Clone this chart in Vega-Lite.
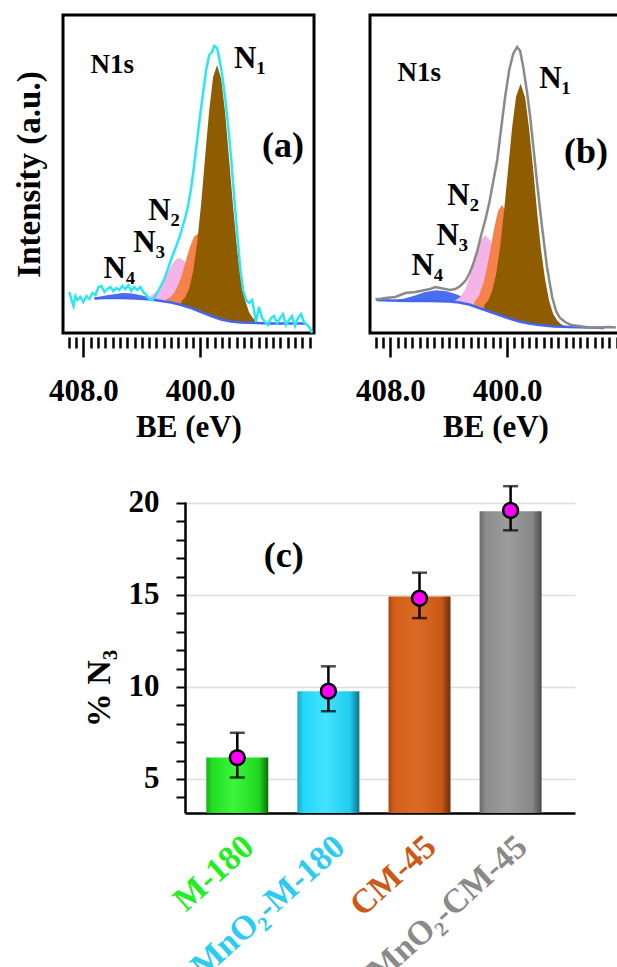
{
  "$schema": "https://vega.github.io/schema/vega-lite/v6.json",
  "background": "white",
  "padding": {"left": 11, "top": 13, "right": 0, "bottom": 0},
  "spacing": 40,
  "config": {
    "font": "Liberation Serif",
    "view": {"stroke": null},
    "axis": {"labelFont": "Liberation Serif", "titleFont": "Liberation Serif", "labelColor": "black", "titleColor": "black", "labelFontWeight": "bold", "titleFontWeight": "bold"},
    "text": {"font": "Liberation Serif", "fontWeight": "bold", "color": "black"}
  },
  "datasets": {
    "a_env": [
      {"be":408.96,"i":41},{"be":408.82,"i":33},{"be":408.68,"i":27},{"be":408.55,"i":37},{"be":408.41,"i":33},{"be":408.21,"i":36},{"be":408.00,"i":31},{"be":407.79,"i":37},{"be":407.59,"i":34},{"be":407.38,"i":40},{"be":407.18,"i":38},{"be":406.97,"i":46},{"be":406.77,"i":47},{"be":406.56,"i":41},{"be":406.36,"i":44},{"be":406.15,"i":46},{"be":405.95,"i":42},{"be":405.74,"i":45},{"be":405.54,"i":43},{"be":405.33,"i":47},{"be":405.13,"i":44},{"be":404.92,"i":48},{"be":404.72,"i":42},{"be":404.51,"i":46},{"be":404.31,"i":43},{"be":404.10,"i":46},{"be":403.90,"i":41},{"be":403.69,"i":38},{"be":403.49,"i":34},{"be":403.28,"i":33},{"be":403.08,"i":37},{"be":402.87,"i":42},{"be":402.67,"i":48},{"be":402.46,"i":54},{"be":402.26,"i":62},{"be":402.05,"i":71},{"be":401.85,"i":79},{"be":401.64,"i":87},{"be":401.44,"i":95},{"be":401.23,"i":105},{"be":401.03,"i":115},{"be":400.82,"i":128},{"be":400.62,"i":145},{"be":400.41,"i":168},{"be":400.21,"i":193},{"be":400.00,"i":218},{"be":399.79,"i":241},{"be":399.59,"i":263},{"be":399.38,"i":278},{"be":399.18,"i":281},{"be":399.04,"i":287},{"be":398.84,"i":285},{"be":398.70,"i":275},{"be":398.50,"i":259},{"be":398.29,"i":235},{"be":398.09,"i":208},{"be":397.88,"i":175},{"be":397.68,"i":138},{"be":397.47,"i":101},{"be":397.26,"i":65},{"be":397.06,"i":43},{"be":396.85,"i":33},{"be":396.65,"i":30},{"be":396.44,"i":33},{"be":396.31,"i":23},{"be":396.17,"i":11},{"be":395.97,"i":26},{"be":395.76,"i":15},{"be":395.56,"i":11},{"be":395.35,"i":8},{"be":395.15,"i":15},{"be":394.94,"i":17},{"be":394.74,"i":10},{"be":394.53,"i":15},{"be":394.32,"i":19},{"be":394.12,"i":8},{"be":393.91,"i":13},{"be":393.71,"i":17},{"be":393.50,"i":7},{"be":393.30,"i":15},{"be":393.09,"i":19},{"be":392.89,"i":11},{"be":392.68,"i":8},{"be":392.48,"i":5},{"be":392.34,"i":0}
    ],
    "a_bg": [
      {"be":407.25,"i":34.5},{"be":406.43,"i":35},{"be":405.40,"i":35},{"be":404.38,"i":34.5},{"be":403.35,"i":33.5},{"be":402.67,"i":32},{"be":401.98,"i":30.5},{"be":401.30,"i":28},{"be":400.62,"i":25},{"be":399.93,"i":21},{"be":399.25,"i":17},{"be":398.56,"i":13.5},{"be":397.88,"i":11.5},{"be":397.20,"i":10.5},{"be":396.17,"i":10},{"be":395.15,"i":9.5},{"be":393.78,"i":9.5},{"be":392.75,"i":9.5}
    ],
    "a_comp": [
      {"c":"N4","be":407.25,"lo":34.5,"i":35.5},{"c":"N4","be":406.77,"lo":34.8,"i":36.7},{"c":"N4","be":406.29,"lo":35,"i":38},{"c":"N4","be":405.81,"lo":35,"i":39.1},{"c":"N4","be":405.33,"lo":35,"i":39.9},{"c":"N4","be":404.86,"lo":34.8,"i":39.7},{"c":"N4","be":404.38,"lo":34.5,"i":38.8},{"c":"N4","be":403.90,"lo":34,"i":37.2},{"c":"N4","be":403.42,"lo":33.6,"i":35.7},{"c":"N4","be":402.94,"lo":32.6,"i":33.7},
      {"c":"N3","be":404.03,"lo":34.2,"i":34.7},{"c":"N3","be":403.69,"lo":34.0,"i":35.5},{"c":"N3","be":403.35,"lo":33.5,"i":37.4},{"c":"N3","be":403.01,"lo":32.8,"i":41.3},{"c":"N3","be":402.67,"lo":32.0,"i":48.0},{"c":"N3","be":402.33,"lo":31.2,"i":57.3},{"c":"N3","be":401.98,"lo":30.5,"i":67.2},{"c":"N3","be":401.64,"lo":29.3,"i":73.9},{"c":"N3","be":401.37,"lo":28.3,"i":75.0},{"c":"N3","be":401.09,"lo":27.1,"i":71.7},{"c":"N3","be":400.75,"lo":25.6,"i":62.3},{"c":"N3","be":400.41,"lo":23.8,"i":49.9},{"c":"N3","be":400.07,"lo":21.8,"i":37.8},{"c":"N3","be":399.73,"lo":19.8,"i":28.3},{"c":"N3","be":399.39,"lo":17.8,"i":21.7},{"c":"N3","be":399.04,"lo":16.0,"i":17.5},{"c":"N3","be":398.70,"lo":14.2,"i":14.7},
      {"c":"N2","be":402.33,"lo":31.2,"i":33.4},{"c":"N2","be":402.05,"lo":30.6,"i":35.7},{"c":"N2","be":401.78,"lo":29.8,"i":40.2},{"c":"N2","be":401.50,"lo":28.8,"i":48.0},{"c":"N2","be":401.23,"lo":27.7,"i":59.3},{"c":"N2","be":400.96,"lo":26.5,"i":73.2},{"c":"N2","be":400.68,"lo":25.3,"i":87.0},{"c":"N2","be":400.41,"lo":23.8,"i":96.6},{"c":"N2","be":400.14,"lo":22.2,"i":99.2},{"c":"N2","be":399.86,"lo":20.6,"i":93.4},{"c":"N2","be":399.59,"lo":19.0,"i":80.7},{"c":"N2","be":399.32,"lo":17.4,"i":64.1},{"c":"N2","be":399.04,"lo":16.0,"i":47.6},{"c":"N2","be":398.77,"lo":14.6,"i":33.8},{"c":"N2","be":398.50,"lo":13.3,"i":23.7},{"c":"N2","be":398.22,"lo":12.5,"i":17.6},{"c":"N2","be":397.95,"lo":11.8,"i":14.0},
      {"c":"N1","be":401.30,"lo":28,"i":31.5},{"c":"N1","be":401.03,"lo":26.8,"i":35.4},{"c":"N1","be":400.75,"lo":25.6,"i":44.6},{"c":"N1","be":400.48,"lo":24.2,"i":61.9},{"c":"N1","be":400.21,"lo":22.6,"i":90.1},{"c":"N1","be":399.93,"lo":21,"i":129.6},{"c":"N1","be":399.66,"lo":19.4,"i":176.6},{"c":"N1","be":399.38,"lo":17.8,"i":222.6},{"c":"N1","be":399.11,"lo":16.3,"i":256.2},{"c":"N1","be":398.84,"lo":14.9,"i":267.9},{"c":"N1","be":398.56,"lo":13.5,"i":254.3},{"c":"N1","be":398.29,"lo":12.7,"i":220.2},{"c":"N1","be":398.02,"lo":11.9,"i":173.9},{"c":"N1","be":397.74,"lo":11.3,"i":125.7},{"c":"N1","be":397.47,"lo":10.9,"i":84.1},{"c":"N1","be":397.20,"lo":10.5,"i":52.9},{"c":"N1","be":396.92,"lo":10.4,"i":32.7},{"c":"N1","be":396.65,"lo":10.2,"i":20.8},{"c":"N1","be":396.38,"lo":10.1,"i":14.7},{"c":"N1","be":396.10,"lo":10,"i":11.8},{"c":"N1","be":395.83,"lo":9.8,"i":9.8}
    ],
    "a_lab": [
      {"k":"s","t":"N1s","be":406.02,"i":260},
      {"k":"n","t":"N₁","be":397.68,"i":265},
      {"k":"n","t":"N₂","be":403.56,"i":113},
      {"k":"n","t":"N₃","be":404.58,"i":81},
      {"k":"n","t":"N₄","be":406.63,"i":55},
      {"k":"p","t":"(a)","be":394.32,"i":176}
    ],
    "b_env": [
      {"be":409.03,"i":34},{"be":408.68,"i":34},{"be":408.34,"i":35},{"be":408.00,"i":35.5},{"be":407.66,"i":36},{"be":407.32,"i":38},{"be":406.97,"i":40},{"be":406.63,"i":40.5},{"be":406.29,"i":41},{"be":405.95,"i":42},{"be":405.61,"i":43},{"be":405.27,"i":44},{"be":404.92,"i":46},{"be":404.58,"i":45},{"be":404.24,"i":44},{"be":403.90,"i":43},{"be":403.56,"i":44},{"be":403.21,"i":47},{"be":402.87,"i":52},{"be":402.60,"i":59},{"be":402.33,"i":69},{"be":402.05,"i":82},{"be":401.78,"i":98},{"be":401.50,"i":113},{"be":401.23,"i":130},{"be":400.96,"i":151},{"be":400.68,"i":173},{"be":400.41,"i":205},{"be":400.14,"i":236},{"be":399.86,"i":263},{"be":399.59,"i":279},{"be":399.32,"i":286},{"be":399.11,"i":282},{"be":398.91,"i":267},{"be":398.63,"i":240},{"be":398.43,"i":217},{"be":398.22,"i":188},{"be":397.95,"i":150},{"be":397.61,"i":106},{"be":397.27,"i":66},{"be":396.92,"i":36},{"be":396.65,"i":22},{"be":396.38,"i":15},{"be":396.03,"i":11},{"be":395.62,"i":8},{"be":395.08,"i":7},{"be":394.39,"i":5.5},{"be":393.71,"i":5.5},{"be":393.03,"i":6},{"be":392.55,"i":5.5}
    ],
    "b_bg": [
      {"be":408.96,"i":33},{"be":408.07,"i":32.5},{"be":406.70,"i":32},{"be":405.33,"i":32},{"be":403.97,"i":31.5},{"be":403.28,"i":30.5},{"be":402.60,"i":28.5},{"be":401.92,"i":25},{"be":401.23,"i":21.5},{"be":400.55,"i":18},{"be":399.86,"i":14.5},{"be":399.18,"i":11.5},{"be":398.50,"i":9.5},{"be":397.81,"i":8},{"be":396.79,"i":6.5},{"be":395.76,"i":6},{"be":394.39,"i":5.5},{"be":393.37,"i":5}
    ],
    "b_comp": [
      {"c":"N4","be":408.41,"lo":32.7,"i":32.9},{"c":"N4","be":407.73,"lo":32.4,"i":33.1},{"c":"N4","be":407.04,"lo":32.1,"i":34.4},{"c":"N4","be":406.36,"lo":32,"i":37.2},{"c":"N4","be":405.68,"lo":32,"i":40.8},{"c":"N4","be":404.86,"lo":31.8,"i":42.8},{"c":"N4","be":404.17,"lo":31.6,"i":41.8},{"c":"N4","be":403.49,"lo":30.8,"i":38.8},{"c":"N4","be":402.80,"lo":29.1,"i":34.5},{"c":"N4","be":402.12,"lo":26.1,"i":29.2},{"c":"N4","be":401.44,"lo":22.6,"i":24.1},{"c":"N4","be":400.75,"lo":19.1,"i":19.7},
      {"c":"N3","be":403.56,"lo":30.9,"i":32.7},{"c":"N3","be":403.21,"lo":30.3,"i":36.0},{"c":"N3","be":402.87,"lo":29.3,"i":43.7},{"c":"N3","be":402.53,"lo":28.2,"i":57.8},{"c":"N3","be":402.19,"lo":26.4,"i":76.0},{"c":"N3","be":401.85,"lo":24.7,"i":92.3},{"c":"N3","be":401.50,"lo":22.9,"i":97.9},{"c":"N3","be":401.16,"lo":21.2,"i":92.4},{"c":"N3","be":400.82,"lo":19.4,"i":80.3},{"c":"N3","be":400.48,"lo":17.7,"i":64.7},{"c":"N3","be":400.14,"lo":15.9,"i":48.5},{"c":"N3","be":399.80,"lo":14.2,"i":34.6},{"c":"N3","be":399.45,"lo":12.7,"i":24.2},{"c":"N3","be":399.11,"lo":11.3,"i":17.2},{"c":"N3","be":398.77,"lo":10.3,"i":13.0},{"c":"N3","be":398.43,"lo":9.4,"i":10.5},{"c":"N3","be":398.09,"lo":8.6,"i":9.0},
      {"c":"N2","be":402.26,"lo":26.8,"i":31.1},{"c":"N2","be":401.92,"lo":25,"i":37.5},{"c":"N2","be":401.57,"lo":23.3,"i":52.4},{"c":"N2","be":401.23,"lo":21.5,"i":76.7},{"c":"N2","be":400.89,"lo":19.8,"i":105.0},{"c":"N2","be":400.62,"lo":18.4,"i":122.3},{"c":"N2","be":400.34,"lo":17,"i":128.0},{"c":"N2","be":400.07,"lo":15.6,"i":120.6},{"c":"N2","be":399.80,"lo":14.2,"i":103.1},{"c":"N2","be":399.52,"lo":13,"i":80.4},{"c":"N2","be":399.25,"lo":11.8,"i":57.4},{"c":"N2","be":398.97,"lo":11.1,"i":38.7},{"c":"N2","be":398.70,"lo":10.5,"i":25.5},{"c":"N2","be":398.43,"lo":9.9,"i":17.2},{"c":"N2","be":398.15,"lo":9.3,"i":12.5},{"c":"N2","be":397.88,"lo":8.2,"i":9.5},
      {"c":"N1","be":401.57,"lo":23.3,"i":27.9},{"c":"N1","be":401.30,"lo":21.9,"i":32.4},{"c":"N1","be":401.03,"lo":20.5,"i":42.0},{"c":"N1","be":400.75,"lo":19.1,"i":59.3},{"c":"N1","be":400.48,"lo":17.7,"i":86.4},{"c":"N1","be":400.21,"lo":16.3,"i":122.7},{"c":"N1","be":399.93,"lo":14.9,"i":164.8},{"c":"N1","be":399.66,"lo":13.6,"i":205.8},{"c":"N1","be":399.39,"lo":12.4,"i":236.6},{"c":"N1","be":399.08,"lo":11.2,"i":249.2},{"c":"N1","be":398.77,"lo":10.3,"i":235.4},{"c":"N1","be":398.50,"lo":9.5,"i":204.7},{"c":"N1","be":398.22,"lo":8.9,"i":163.9},{"c":"N1","be":397.95,"lo":8.3,"i":121.1},{"c":"N1","be":397.68,"lo":7.8,"i":82.9},{"c":"N1","be":397.40,"lo":7.3,"i":53.2},{"c":"N1","be":397.13,"lo":6.8,"i":32.4},{"c":"N1","be":396.86,"lo":6.5,"i":19.6},{"c":"N1","be":396.58,"lo":6.3,"i":12.5},{"c":"N1","be":396.31,"lo":6.2,"i":8.8},{"c":"N1","be":396.03,"lo":6.0,"i":7.0}
    ],
    "b_lab": [
      {"k":"s","t":"N1s","be":406.02,"i":252},
      {"k":"n","t":"N₁","be":397.81,"i":245},
      {"k":"n","t":"N₂","be":404.10,"i":128},
      {"k":"n","t":"N₃","be":404.85,"i":88},
      {"k":"n","t":"N₄","be":406.56,"i":58},
      {"k":"p","t":"(b)","be":394.60,"i":170}
    ],
    "bars": [
      {"s":"M-180","p":1,"v":6.16,"m":6.16,"lo":5.08,"hi":7.51},
      {"s":"MnO₂-M-180","p":2,"v":9.77,"m":9.77,"lo":8.68,"hi":11.12},
      {"s":"CM-45","p":3,"v":14.91,"m":14.82,"lo":13.74,"hi":16.21},
      {"s":"MnO₂-CM-45","p":4,"v":19.55,"m":19.59,"lo":18.51,"hi":20.91}
    ],
    "c_lab": [{"t":"(c)","p":1.51,"v":16.5}],
    "spacer": [{"t":""}]
  },
  "vconcat": [
    {
      "spacing": 35,
      "hconcat": [
        {
          "width": 251, "height": 318,
          "view": {"stroke": "black", "strokeWidth": 3},
          "encoding": {
            "x": {"field": "be", "type": "quantitative",
              "scale": {"domain": [392.2, 409.4], "reverse": true, "nice": false, "zero": false},
              "axis": {"values": [392.5,393,393.5,394,394.5,395,395.5,396,396.5,397,397.5,398,398.5,399,399.5,400,400.5,401,401.5,402,402.5,403,403.5,404,404.5,405,405.5,406,406.5,407,407.5,408,408.5,409],
                "labelExpr": "datum.value % 8 === 0 ? format(datum.value, '.1f') : ''",
                "tickSize": {"condition": {"test": "datum.value % 8 === 0", "value": 20}, "value": 11},
                "tickWidth": 2.5, "tickColor": "black", "domain": false, "grid": false, "offset": 4,
                "labelFontSize": 31, "labelPadding": 19, "labelOverlap": false, "labelFlush": false, "labelBound": false,
                "title": "BE (eV)", "titleFontSize": 31, "titlePadding": 6}},
            "y": {"field": "i", "type": "quantitative",
              "scale": {"domain": [0, 318], "nice": false, "zero": false},
              "axis": {"title": "Intensity (a.u.)", "labels": false, "ticks": false, "domain": false, "grid": false, "titleFontSize": 33, "titlePadding": 17}}
          },
          "layer": [
            {"data": {"name": "a_comp"}, "transform": [{"filter": "datum.c === 'N4'"}], "mark": {"type": "area", "color": "#4a6ef0"}, "encoding": {"y2": {"field": "lo"}}},
            {"data": {"name": "a_comp"}, "transform": [{"filter": "datum.c === 'N3'"}], "mark": {"type": "area", "color": "#f5b4e8"}, "encoding": {"y2": {"field": "lo"}}},
            {"data": {"name": "a_comp"}, "transform": [{"filter": "datum.c === 'N2'"}], "mark": {"type": "area", "color": "#f5824a"}, "encoding": {"y2": {"field": "lo"}}},
            {"data": {"name": "a_comp"}, "transform": [{"filter": "datum.c === 'N1'"}], "mark": {"type": "area", "color": "#8f5c00"}, "encoding": {"y2": {"field": "lo"}}},
            {"data": {"name": "a_bg"}, "mark": {"type": "line", "color": "#4466ee", "strokeWidth": 2.5}, "encoding": {}},
            {"data": {"name": "a_env"}, "mark": {"type": "line", "color": "#2ee6f0", "strokeWidth": 2.5}, "encoding": {}},
            {"data": {"name": "a_lab"}, "transform": [{"filter": "datum.k === 's'"}], "mark": {"type": "text", "fontSize": 27, "align": "center", "baseline": "alphabetic"}, "encoding": {"text": {"field": "t"}}},
            {"data": {"name": "a_lab"}, "transform": [{"filter": "datum.k === 'n'"}], "mark": {"type": "text", "fontSize": 31, "align": "left", "baseline": "alphabetic"}, "encoding": {"text": {"field": "t"}}},
            {"data": {"name": "a_lab"}, "transform": [{"filter": "datum.k === 'p'"}], "mark": {"type": "text", "fontSize": 36, "align": "center", "baseline": "alphabetic"}, "encoding": {"text": {"field": "t"}}}
          ]
        },
        {
          "width": 251, "height": 318,
          "view": {"stroke": "black", "strokeWidth": 3},
          "encoding": {
            "x": {"field": "be", "type": "quantitative",
              "scale": {"domain": [392.2, 409.4], "reverse": true, "nice": false, "zero": false},
              "axis": {"values": [392.5,393,393.5,394,394.5,395,395.5,396,396.5,397,397.5,398,398.5,399,399.5,400,400.5,401,401.5,402,402.5,403,403.5,404,404.5,405,405.5,406,406.5,407,407.5,408,408.5,409],
                "labelExpr": "datum.value % 8 === 0 ? format(datum.value, '.1f') : ''",
                "tickSize": {"condition": {"test": "datum.value % 8 === 0", "value": 20}, "value": 11},
                "tickWidth": 2.5, "tickColor": "black", "domain": false, "grid": false, "offset": 4,
                "labelFontSize": 31, "labelPadding": 19, "labelOverlap": false, "labelFlush": false, "labelBound": false,
                "title": "BE (eV)", "titleFontSize": 31, "titlePadding": 6}},
            "y": {"field": "i", "type": "quantitative",
              "scale": {"domain": [0, 318], "nice": false, "zero": false},
              "axis": null}
          },
          "layer": [
            {"data": {"name": "b_comp"}, "transform": [{"filter": "datum.c === 'N4'"}], "mark": {"type": "area", "color": "#4a6ef0"}, "encoding": {"y2": {"field": "lo"}}},
            {"data": {"name": "b_comp"}, "transform": [{"filter": "datum.c === 'N3'"}], "mark": {"type": "area", "color": "#f5b4e8"}, "encoding": {"y2": {"field": "lo"}}},
            {"data": {"name": "b_comp"}, "transform": [{"filter": "datum.c === 'N2'"}], "mark": {"type": "area", "color": "#f5824a"}, "encoding": {"y2": {"field": "lo"}}},
            {"data": {"name": "b_comp"}, "transform": [{"filter": "datum.c === 'N1'"}], "mark": {"type": "area", "color": "#8f5c00"}, "encoding": {"y2": {"field": "lo"}}},
            {"data": {"name": "b_bg"}, "mark": {"type": "line", "color": "#4466ee", "strokeWidth": 2.5}, "encoding": {}},
            {"data": {"name": "b_env"}, "mark": {"type": "line", "color": "#8a8a8a", "strokeWidth": 2.5}, "encoding": {}},
            {"data": {"name": "b_lab"}, "transform": [{"filter": "datum.k === 's'"}], "mark": {"type": "text", "fontSize": 27, "align": "center", "baseline": "alphabetic"}, "encoding": {"text": {"field": "t"}}},
            {"data": {"name": "b_lab"}, "transform": [{"filter": "datum.k === 'n'"}], "mark": {"type": "text", "fontSize": 31, "align": "left", "baseline": "alphabetic"}, "encoding": {"text": {"field": "t"}}},
            {"data": {"name": "b_lab"}, "transform": [{"filter": "datum.k === 'p'"}], "mark": {"type": "text", "fontSize": 36, "align": "center", "baseline": "alphabetic"}, "encoding": {"text": {"field": "t"}}}
          ]
        }
      ]
    },
    {
      "spacing": 0,
      "hconcat": [
        {
          "width": 19, "height": 10,
          "data": {"name": "spacer"},
          "mark": {"type": "text"},
          "encoding": {"text": {"field": "t"}}
        },
        {
          "width": 390, "height": 311,
          "encoding": {
            "x": {"field": "p", "type": "quantitative",
              "scale": {"domain": [0.481, 4.652], "nice": false, "zero": false},
              "axis": {"values": [1, 2, 3, 4],
                "labelExpr": "datum.value === 1 ? 'M-180' : datum.value === 2 ? 'MnO₂-M-180' : datum.value === 3 ? 'CM-45' : 'MnO₂-CM-45'",
                "labelColor": {"condition": [{"test": "datum.value === 1", "value": "#22ee22"}, {"test": "datum.value === 2", "value": "#2ccbef"}, {"test": "datum.value === 3", "value": "#cc5a16"}], "value": "#8a8a8a"},
                "labelAngle": -42, "labelAlign": "right", "labelBaseline": "top",
                "labelFontSize": 34, "labelPadding": 16, "labelOffset": 0,
                "labelOverlap": false, "labelFlush": false, "labelBound": false, "labelLimit": 400,
                "ticks": false, "domain": true, "domainColor": "black", "domainWidth": 2.5, "grid": false, "title": null}},
            "y": {"field": "v", "type": "quantitative",
              "scale": {"domain": [3.15, 20.05], "nice": false, "zero": false},
              "axis": {"values": [4,5,6,7,8,9,10,11,12,13,14,15,16,17,18,19,20],
                "labelExpr": "datum.value % 5 === 0 ? datum.label : ''",
                "tickSize": 9, "tickWidth": 2, "tickColor": "black",
                "domainColor": "black", "domainWidth": 2.5,
                "grid": true, "gridColor": "#dddddd", "gridWidth": 1.5,
                "gridOpacity": {"condition": {"test": "datum.value % 5 === 0", "value": 1}, "value": 0},
                "labelFontSize": 31, "labelPadding": 17, "labelOverlap": false, "labelFlush": false,
                "title": "% N₃", "titleFontSize": 34, "titleBaseline": "alphabetic", "titleX": -76, "titleY": 186}}
          },
          "layer": [
            {"data": {"name": "bars"}, "transform": [{"filter": "datum.p === 1"}], "mark": {"type": "bar", "size": 62,
              "color": {"x1": 0, "y1": 0, "x2": 1, "y2": 0, "gradient": "linear", "stops": [{"offset": 0, "color": "#18b018"}, {"offset": 0.1, "color": "#22e022"}, {"offset": 0.45, "color": "#3cf43c"}, {"offset": 0.85, "color": "#1ed81e"}, {"offset": 1, "color": "#0a6e0a"}]}},
              "encoding": {"y2": {"datum": 3.15}}},
            {"data": {"name": "bars"}, "transform": [{"filter": "datum.p === 2"}], "mark": {"type": "bar", "size": 62,
              "color": {"x1": 0, "y1": 0, "x2": 1, "y2": 0, "gradient": "linear", "stops": [{"offset": 0, "color": "#1aa6c6"}, {"offset": 0.1, "color": "#22d8fa"}, {"offset": 0.45, "color": "#44e2ff"}, {"offset": 0.85, "color": "#20cdef"}, {"offset": 1, "color": "#10708a"}]}},
              "encoding": {"y2": {"datum": 3.15}}},
            {"data": {"name": "bars"}, "transform": [{"filter": "datum.p === 3"}], "mark": {"type": "bar", "size": 62,
              "color": {"x1": 0, "y1": 0, "x2": 1, "y2": 0, "gradient": "linear", "stops": [{"offset": 0, "color": "#a84a12"}, {"offset": 0.1, "color": "#d2601a"}, {"offset": 0.45, "color": "#dc6a24"}, {"offset": 0.85, "color": "#c85a16"}, {"offset": 1, "color": "#6e2e08"}]}},
              "encoding": {"y2": {"datum": 3.15}}},
            {"data": {"name": "bars"}, "transform": [{"filter": "datum.p === 4"}], "mark": {"type": "bar", "size": 62,
              "color": {"x1": 0, "y1": 0, "x2": 1, "y2": 0, "gradient": "linear", "stops": [{"offset": 0, "color": "#6a6a6a"}, {"offset": 0.1, "color": "#8c8c8c"}, {"offset": 0.45, "color": "#9c9c9c"}, {"offset": 0.85, "color": "#888888"}, {"offset": 1, "color": "#4a4a4a"}]}},
              "encoding": {"y2": {"datum": 3.15}}},
            {"data": {"name": "bars"}, "mark": {"type": "errorbar", "color": "black", "ticks": {"size": 15, "thickness": 2.5, "color": "black"}, "rule": {"strokeWidth": 2.5, "color": "black"}},
              "encoding": {"y": {"field": "lo", "type": "quantitative", "title": "% N₃"}, "y2": {"field": "hi"}}},
            {"data": {"name": "bars"}, "mark": {"type": "point", "shape": "circle", "filled": true, "size": 220, "fill": "#ff00ff", "stroke": "black", "strokeWidth": 2.5, "opacity": 1},
              "encoding": {"y": {"field": "m", "type": "quantitative", "title": "% N₃"}}},
            {"data": {"name": "c_lab"}, "mark": {"type": "text", "fontSize": 36, "align": "center", "baseline": "alphabetic"}, "encoding": {"text": {"field": "t"}}}
          ]
        }
      ]
    }
  ]
}
